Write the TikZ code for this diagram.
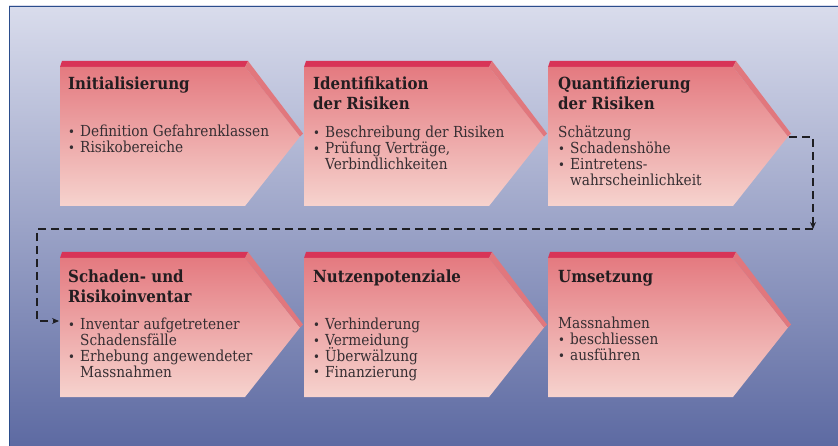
\documentclass[tikz,border=0pt]{standalone}
\usepackage{fontspec}
\setmainfont{DejaVu Serif}[FakeStretch=0.9]
\usetikzlibrary{arrows.meta}

\definecolor{bgtop}{HTML}{D9DCEC}
\definecolor{bgmid}{HTML}{9AA3CA}
\definecolor{bgbot}{HTML}{5D6AA2}
\definecolor{frameblue}{HTML}{2B4D8C}
\definecolor{stripred}{HTML}{D83457}
\definecolor{bevelred}{HTML}{E1777D}
\definecolor{boxtop}{HTML}{E47A80}
\definecolor{boxbot}{HTML}{F6D3CE}
\definecolor{titleink}{HTML}{231D20}
\definecolor{bodyink}{HTML}{362E32}
\definecolor{flowink}{HTML}{1E1E22}

% one process step: red top strip, shaded arrow body, bevel on the upper slant
% #1 = left x, #2 = top y of the strip
\newcommand\phaseshape[2]{%
  \begin{scope}[shift={(#1,#2)}]
    \fill[stripred] (2,0) -- (188,0) -- (185,6) -- (0,6) -- cycle;
    \shade[top color=boxtop,bottom color=boxbot]
      (0,6) -- (185,6) -- (240,75.5) -- (185,145) -- (0,145) -- cycle;
    \fill[bevelred] (188,0) -- (243,72.5) -- (240,75.5) -- (185,6) -- cycle;
  \end{scope}}

\newcommand\bpoint{\makebox[12pt][l]{\raisebox{0.5pt}{\scalebox{0.85}{\textbullet}}}}
\newcommand\bcont{\hspace*{12pt}}
% fixed line pitch, even for lines with accented capitals
\newcommand\steptext[1]{\parbox[t]{230pt}{\lineskiplimit=-100pt\raggedright #1}}

\tikzset{
  phasetitle/.style={anchor=base west, inner sep=0pt, text=titleink,
    font=\fontsize{16.7}{19.5}\selectfont\bfseries},
  phasebody/.style={anchor=base west, inner sep=0pt, text=bodyink,
    font=\fontsize{15.2}{15.8}\selectfont},
  flow/.style={draw=flowink, line width=1.4pt, dash pattern=on 8pt off 5pt},
  flowtip/.style={-{Stealth[length=7pt,width=6pt]}},
}

\begin{document}
\begin{tikzpicture}[x=1pt,y=-1pt]
  \useasboundingbox (0,0) rectangle (838,446);
  \fill[white] (0,0) rectangle (838,446);

  % panel background and its frame
  \shade[top color=bgtop, middle color=bgmid, bottom color=bgbot]
    (9,6) rectangle (838,446);
  \draw[frameblue, line width=1.3pt] (9.6,446) -- (9.6,6.6) -- (838,6.6);

  % the six steps
  \phaseshape{60}{61}
  \phaseshape{304}{61}
  \phaseshape{548}{61}
  \phaseshape{60}{252}
  \phaseshape{304}{252}
  \phaseshape{548}{252}

  % row 1
  \node[phasetitle] (t1) at (68,90) {\steptext{Initialisierung}};
  \node[phasebody]  (b1) at (68,137) {\steptext{\bpoint Definition Gefahrenklassen\\
    \bpoint Risikobereiche}};

  \node[phasetitle] (t2) at (313,90) {\steptext{Identifikation\\der Risiken}};
  \node[phasebody]  (b2) at (313,138) {\steptext{\bpoint Beschreibung der Risiken\\
    \bpoint Prüfung Verträge,\\\bcont Verbindlichkeiten}};

  \node[phasetitle] (t3) at (558,90) {\steptext{Quantifizierung\\der Risiken}};
  \node[phasebody]  (b3) at (558,138) {\steptext{Schätzung\\
    \bpoint Schadenshöhe\\\bpoint Eintretens-\\\bcont wahrscheinlichkeit}};

  % row 2
  \node[phasetitle] (t4) at (68,283) {\steptext{Schaden- und\\Risikoinventar}};
  \node[phasebody]  (b4) at (68,330) {\steptext{\bpoint Inventar aufgetretener\\
    \bcont Schadensfälle\\\bpoint Erhebung angewendeter\\\bcont Massnahmen}};

  \node[phasetitle] (t5) at (313,283) {\steptext{Nutzenpotenziale}};
  \node[phasebody]  (b5) at (313,330) {\steptext{\bpoint Verhinderung\\
    \bpoint Vermeidung\\\bpoint Überwälzung\\\bpoint Finanzierung}};

  \node[phasetitle] (t6) at (558,283) {\steptext{Umsetzung}};
  \node[phasebody]  (b6) at (558,329) {\steptext{Massnahmen\\
    \bpoint beschliessen\\\bpoint ausführen}};

  % dashed flow from the end of row 1 back to the start of row 2
  \coordinate (outQ) at (789,137);
  \coordinate (turnR) at (813,229);
  \coordinate (turnL) at (37,229);
  \coordinate (inS) at (59,321);
  \draw[flow, flowtip] (outQ) -| (turnR);
  \draw[flow, flowtip] (turnR) -- (turnL) |- (inS);
\end{tikzpicture}
\end{document}
